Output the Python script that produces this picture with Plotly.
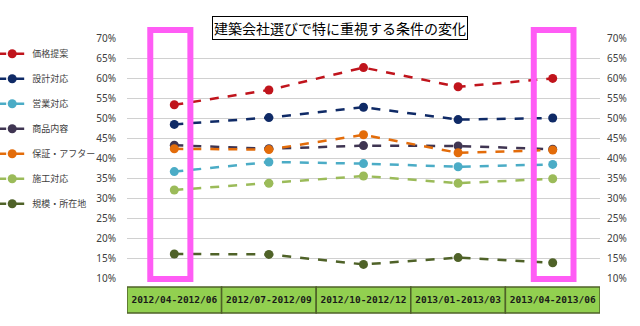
import plotly.graph_objects as go

periods = ["2012/04-2012/06", "2012/07-2012/09", "2012/10-2012/12", "2013/01-2013/03", "2013/04-2013/06"]
series_names = ["価格提案", "設計対応", "営業対応", "商品内容", "保証・アフター", "施工対応", "規模・所在地"]
kakaku = [53.3, 57.0, 62.6, 57.8, 59.9]
sekkei = [48.4, 50.1, 52.7, 49.6, 50.0]
eigyo = [36.6, 39.0, 38.6, 37.8, 38.4]
shohin = [43.2, 42.3, 43.1, 43.0, 42.2]
hosho = [42.3, 42.1, 45.8, 41.3, 42.0]
sekou = [32.0, 33.7, 35.5, 33.7, 34.8]
kibo = [16.0, 15.9, 13.4, 15.1, 13.8]
y_ticks = [10, 15, 20, 25, 30, 35, 40, 45, 50, 55, 60, 65, 70]
title_text = "建築会社選びで特に重視する条件の変化"

series_values = [kakaku, sekkei, eigyo, shohin, hosho, sekou, kibo]
colors = ["#C0141C", "#0F2A66", "#4BACC6", "#3F3552", "#E36C0A", "#9BBB59", "#4F6228"]

xs = list(range(len(periods)))
fig = go.Figure()
draw_order = [6, 5, 2, 3, 4, 1, 0]
for i in draw_order:
    fig.add_trace(go.Scatter(
        x=xs, y=series_values[i], name=series_names[i], mode="lines+markers",
        line=dict(color=colors[i], width=2.5, dash="dash"),
        marker=dict(color=colors[i], size=9),
        legendgroup=series_names[i], legendrank=i,
    ))
# invisible trace for right axis
fig.add_trace(go.Scatter(x=xs, y=kakaku, yaxis="y2", showlegend=False,
                         mode="lines", line=dict(width=0), hoverinfo="skip", opacity=0))

tick_txt = [f"{t}%" for t in y_ticks]
axis_font = dict(family="Noto Sans, Arial", size=10, color="#404040")
fig.update_layout(
    width=640, height=326,
    margin=dict(l=127, r=40, t=38, b=48, autoexpand=False),
    paper_bgcolor="white", plot_bgcolor="white",
    font=dict(family="Noto Sans CJK JP", color="#404040"),
    xaxis=dict(range=[-0.5, 4.5], tickmode="array", tickvals=xs, ticktext=periods,
               showgrid=False, zeroline=False, showline=False, ticks="",
               tickangle=0, automargin=False,
               tickfont=dict(family="DejaVu Sans Mono", size=9.5, color="#1a1a1a", weight="bold"),
               ticklabelstandoff=14),
    yaxis=dict(range=[10, 70], tickmode="array", tickvals=y_ticks, ticktext=tick_txt,
               showgrid=True, gridcolor="#D0D0D0", gridwidth=1, zeroline=False,
               automargin=False,
               showline=False, tickfont=axis_font, ticklabelstandoff=10),
    yaxis2=dict(range=[10, 70], overlaying="y", side="right", tickmode="array",
                tickvals=y_ticks, ticktext=tick_txt, showgrid=False, zeroline=False,
                automargin=False,
                showline=False, tickfont=axis_font, ticklabelstandoff=6),
    legend=dict(x=-0.285, y=0.995, xanchor="left", yanchor="top",
                traceorder="grouped", tracegroupgap=6,
                font=dict(family="Noto Sans CJK JP", size=9, color="#404040"),
                itemwidth=30, bgcolor="rgba(0,0,0,0)"),
    showlegend=True,
)

# bottom category table cells
for i in xs:
    fig.add_shape(type="rect", xref="x", yref="paper", x0=i - 0.5, x1=i + 0.5,
                  y0=-0.146, y1=-0.0375, fillcolor="#92D050",
                  line=dict(color="#4F6228", width=1.5), layer="below")

# highlight boxes
for cx, a, b in [(0, -0.254, 0.17), (4, -0.2, 0.22)]:
    fig.add_shape(type="rect", xref="x", yref="paper", x0=cx + a, x1=cx + b,
                  y0=-0.004, y1=1.033, line=dict(color="#FF5CF5", width=6),
                  fillcolor="rgba(0,0,0,0)")

fig.add_annotation(text=title_text, xref="paper", yref="paper", x=0.45, y=1.092,
                   showarrow=False, font=dict(family="Noto Sans CJK JP", size=14, color="black"),
                   bordercolor="black", borderwidth=1, bgcolor="white", borderpad=1)

fig.write_html("out.html")
